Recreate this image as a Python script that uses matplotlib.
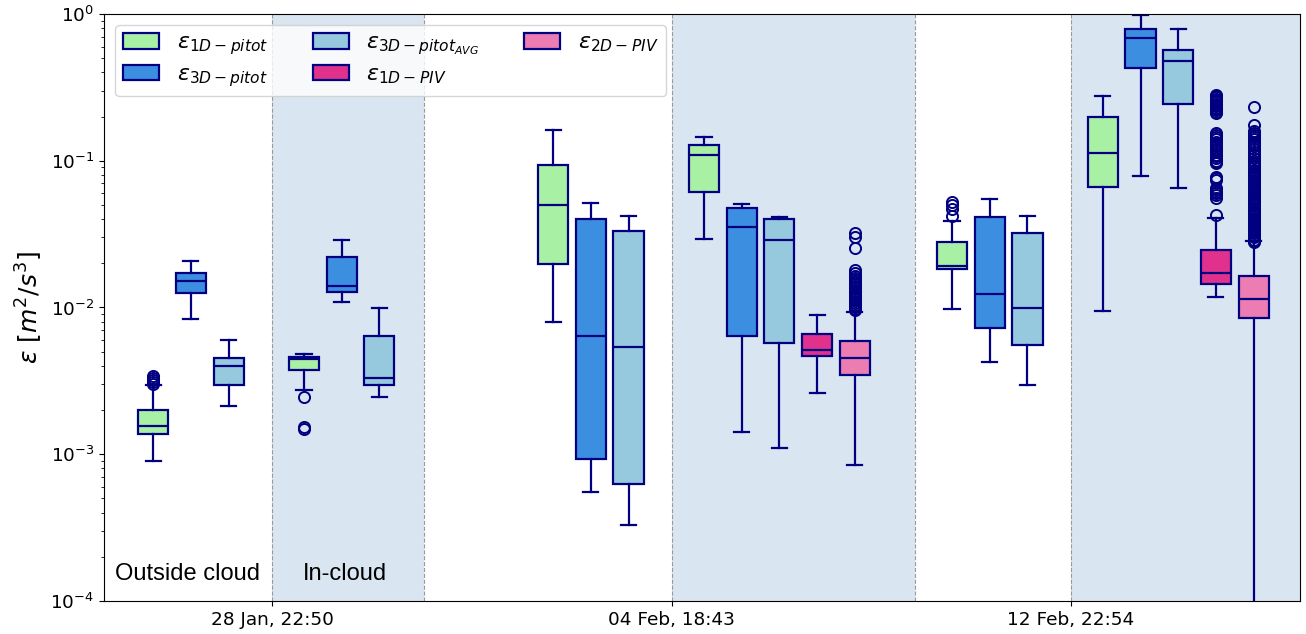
import matplotlib
matplotlib.use("Agg")
import matplotlib.pyplot as plt
from matplotlib.patches import Patch

# ---- data ----
dates = ["28 Jan, 22:50", "04 Feb, 18:43", "12 Feb, 22:54"]
labels = [r"$\epsilon_{1D-pitot}$", r"$\epsilon_{3D-pitot}$",
          r"$\epsilon_{3D-pitot_{AVG}}$", r"$\epsilon_{1D-PIV}$",
          r"$\epsilon_{2D-PIV}$"]
colors = ["#a8f0a3", "#3c8fe0", "#96c8de", "#e0328c", "#eb7db2"]

# five-number summaries per date: (whislo, q1, med, q3, whishi)
pitot1d_out = [(0.000895, 0.00138, 0.00157, 0.00201, 0.00296),
               (0.00792, 0.0197, 0.0499, 0.0936, 0.162),
               (0.00969, 0.0183, 0.0193, 0.0279, 0.0388)]
pitot3d_out = [(0.00839, 0.0125, 0.0152, 0.0172, 0.0207),
               (0.000556, 0.000924, 0.00639, 0.0399, 0.0513),
               (0.00427, 0.00728, 0.0124, 0.0416, 0.0551)]
avg_out = [(0.00212, 0.00296, 0.00401, 0.00451, 0.00601),
           (0.00033, 0.000624, 0.00541, 0.0332, 0.0420),
           (0.00297, 0.00553, 0.00988, 0.0320, 0.0418)]

pitot1d_in = [(0.00275, 0.00377, 0.00444, 0.0046, 0.0048),
              (0.0294, 0.0612, 0.110, 0.1274, 0.146),
              (0.00945, 0.0657, 0.1137, 0.199, 0.275)]
pitot3d_in = [(0.0109, 0.0128, 0.0141, 0.0222, 0.0288),
              (0.00142, 0.00639, 0.0352, 0.0479, 0.0507),
              (0.0786, 0.429, 0.683, 0.795, 0.98)]
avg_in = [(0.00247, 0.00295, 0.00331, 0.00643, 0.00988),
          (0.0011, 0.00576, 0.0288, 0.0401, 0.0416),
          (0.0653, 0.244, 0.478, 0.571, 0.785)]
piv1d_in = [None,
            (0.00261, 0.00465, 0.00516, 0.0066, 0.00885),
            (0.0117, 0.0144, 0.0173, 0.0248, 0.0408)]
piv2d_in = [None,
            (0.000849, 0.00345, 0.00451, 0.00589, 0.00931),
            (0.00005, 0.00849, 0.01136, 0.0164, 0.0282)]

# outliers per date
pitot1d_out_fl = [[0.0030, 0.0031, 0.0032, 0.0033, 0.0034], [],
                  [0.042, 0.047, 0.050, 0.052]]
pitot1d_in_fl = [[0.00246, 0.00154, 0.00148], [], []]
piv1d_in_fl = [[], [],
               [0.28, 0.275, 0.27, 0.265, 0.26, 0.255, 0.25, 0.245, 0.24,
                0.235, 0.23, 0.225, 0.22, 0.215, 0.21, 0.154, 0.15, 0.145,
                0.14, 0.135, 0.13, 0.125, 0.12, 0.118, 0.115, 0.11, 0.107,
                0.105, 0.10, 0.098, 0.0966, 0.0775, 0.076, 0.074, 0.065,
                0.063, 0.061, 0.06, 0.058, 0.056, 0.0426]]
piv2d_in_fl = [[],
               [0.0321, 0.0302, 0.0253, 0.018, 0.0172, 0.0165, 0.016, 0.0155,
                0.015, 0.0145, 0.014, 0.0135, 0.013, 0.0126, 0.0122, 0.0118,
                0.0114, 0.011, 0.0107, 0.0104, 0.0101, 0.0098, 0.0096],
               [0.233, 0.175, 0.16, 0.155, 0.15, 0.145, 0.14, 0.135, 0.13,
                0.125, 0.12, 0.115, 0.11, 0.105, 0.10, 0.097, 0.095, 0.092,
                0.09, 0.087, 0.085, 0.082, 0.08, 0.078, 0.076, 0.074, 0.072,
                0.07, 0.068, 0.066, 0.064, 0.062, 0.06, 0.058, 0.057, 0.055,
                0.054, 0.052, 0.051, 0.05, 0.048, 0.047, 0.046, 0.045, 0.044,
                0.043, 0.042, 0.041, 0.040, 0.039, 0.038, 0.037, 0.036, 0.035,
                0.034, 0.033, 0.032, 0.031, 0.030, 0.029, 0.0285, 0.028]]
no_fl = [[], [], []]

# ---- layout ----
date_pos = [0.0, 10.61, 21.19]
in_cloud_end = [4.03, 17.06, 28.0]
out_offsets = [-3.15, -2.15, -1.15]
in_offsets = [0.85, 1.85, 2.85, 3.85, 4.85]
edge = "#000080"

out_series = [(pitot1d_out, pitot1d_out_fl), (pitot3d_out, no_fl), (avg_out, no_fl)]
in_series = [(pitot1d_in, pitot1d_in_fl), (pitot3d_in, no_fl), (avg_in, no_fl),
             (piv1d_in, piv1d_in_fl), (piv2d_in, piv2d_in_fl)]

fig = plt.figure(figsize=(13.06, 6.34), dpi=100)
ax = fig.add_axes([0.0796, 0.052, 0.9158, 0.926])

for i, t in enumerate(date_pos):
    ax.axvspan(t, in_cloud_end[i], color="#d9e5f0", zorder=0, lw=0)
    for xv in (t, in_cloud_end[i]):
        ax.axvline(xv, color="#999999", ls="--", lw=0.8, zorder=0.5)


def draw(series_list, offsets, t):
    for k, (stats, fl) in enumerate(series_list):
        s = stats[i]
        if s is None:
            continue
        lo, q1, med, q3, hi = s
        st = [dict(whislo=lo, q1=q1, med=med, q3=q3, whishi=hi, fliers=fl[i])]
        ax.bxp(st, positions=[t + offsets[k]], widths=0.8, patch_artist=True,
               boxprops=dict(facecolor=colors[k], edgecolor=edge, lw=1.6),
               medianprops=dict(color=edge, lw=1.6),
               whiskerprops=dict(color=edge, lw=1.6),
               capprops=dict(color=edge, lw=1.6),
               flierprops=dict(marker="o", markerfacecolor="none",
                               markeredgecolor=edge, markersize=8, mew=1.4),
               manage_ticks=False)


for i, t in enumerate(date_pos):
    draw(out_series, out_offsets, t)
    draw(in_series, in_offsets, t)

ax.set_yscale("log")
ax.set_ylim(1e-4, 1)
ax.set_xlim(-4.456, 27.27)
ax.set_xticks(date_pos)
ax.set_xticklabels(dates)
ax.tick_params(labelsize=13.3)
ax.set_ylabel(r"$\epsilon\ [m^2/s^3]$", fontsize=18)

ax.text(-2.23, 1.53e-4, "Outside cloud", fontsize=17, family="Liberation Sans",
        ha="center", va="center")
ax.text(1.94, 1.53e-4, "In-cloud", fontsize=17, family="Liberation Sans",
        ha="center", va="center")

handles = [Patch(facecolor=c, edgecolor=edge, lw=1.6) for c in colors]
ax.legend(handles, labels, loc="upper left", ncol=3, fontsize=16,
          handlelength=1.62, labelspacing=0.3, borderpad=0.35)

fig.savefig("out.png", dpi=100)
